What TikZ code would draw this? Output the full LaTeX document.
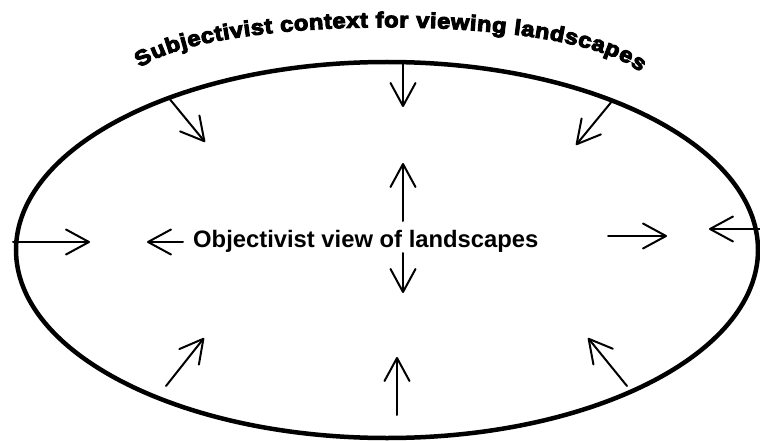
\documentclass[tikz,border=0pt]{standalone}
\usepackage{fontspec}
\setmainfont{Liberation Sans}
\newfontfamily\titlefont[FakeBold=5,FakeStretch=1.1]{Liberation Sans Bold}
\usetikzlibrary{arrows.meta,decorations.text,shapes.geometric}

\tikzset{
  rim/.style={line width=4.5pt},
  push/.style={line width=2pt,line cap=round,
    -{Straight Barb[length=23pt,width=25pt,line width=2pt,round]}},
  label/.style={font=\bfseries\fontsize{23.8}{24}\selectfont,inner sep=0pt}
}

\begin{document}
\begin{tikzpicture}[x=1pt,y=-1pt]
\useasboundingbox (0,0) rectangle (760,441);

% outer subjectivist context
\node[ellipse,draw,rim,minimum width=742pt,minimum height=376pt,inner sep=0pt] (rim) at (387,250) {};

% arched title
\coordinate (ts) at (140,68);
\coordinate (te) at (640,72);
\path[decorate,decoration={text along path,text align={fit to path},
  text format delimiters={|}{|},
  text={|\titlefont\fontsize{21.5}{22}\selectfont|Subjectivist context for viewing landscapes}}]
  (ts) .. controls (212,14) and (568,12) .. (te);

% objectivist core
\node[label,anchor=base west] (core) at (193,247) {Objectivist view of landscapes};

% arrows pressing in from the rim
\coordinate (a1s) at (168,97);  \coordinate (a1e) at (205,142);
\coordinate (a2s) at (403,62);  \coordinate (a2e) at (403,107);
\coordinate (a3s) at (613,100); \coordinate (a3e) at (576,145);
\coordinate (a4s) at (13,242);  \coordinate (a4e) at (90,242);
\coordinate (a5s) at (762,229); \coordinate (a5e) at (709,229);
\coordinate (a6s) at (166,386); \coordinate (a6e) at (204,338);
\coordinate (a7s) at (397,415); \coordinate (a7e) at (397,357);
\coordinate (a8s) at (627,386); \coordinate (a8e) at (588,338);
\foreach \k in {1,...,8} \draw[push] (a\k s) -- (a\k e);

% arrows pushing out from the core
\coordinate (b1s) at (183,242); \coordinate (b1e) at (147,242);
\coordinate (b2s) at (608,236); \coordinate (b2e) at (667,236);
\coordinate (b3s) at (403,221); \coordinate (b3e) at (403,163);
\coordinate (b4s) at (403,253); \coordinate (b4e) at (403,293);
\foreach \k in {1,...,4} \draw[push] (b\k s) -- (b\k e);
\end{tikzpicture}
\end{document}
